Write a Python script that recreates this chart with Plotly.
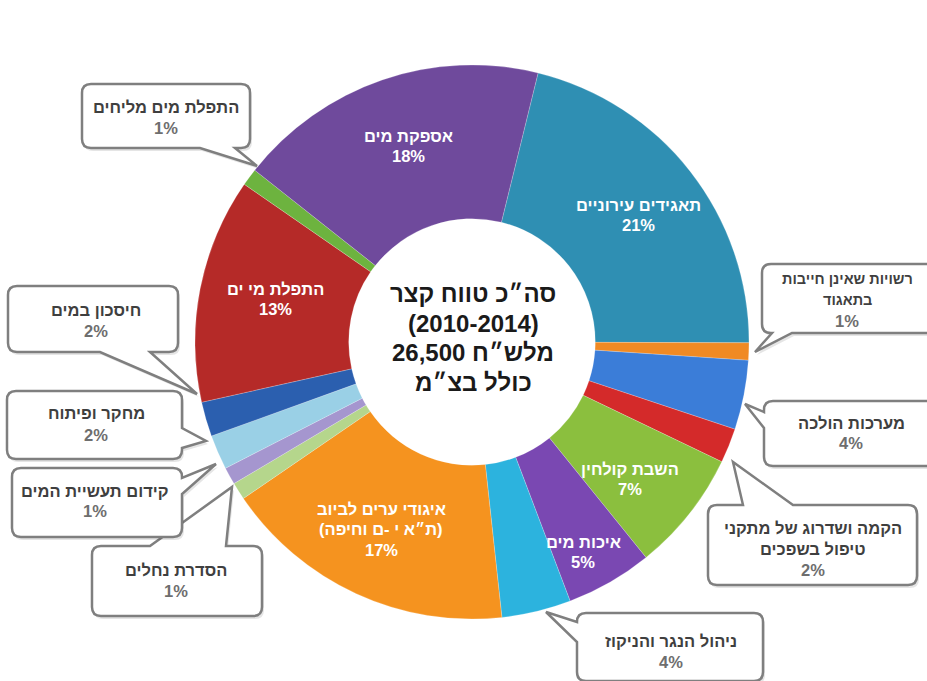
import plotly.graph_objects as go

# ---------------- data ----------------
categories = [
    "תאגידים עירוניים",
    "רשויות שאינן חייבות בתאגוד",
    "מערכות הולכה",
    "הקמה ושדרוג של מתקני טיפול בשפכים",
    "השבת קולחין",
    "איכות מים",
    "ניהול הנגר והניקוז",
    "איגודי ערים לביוב (ת״א י -ם וחיפה)",
    "הסדרת נחלים",
    "קידום תעשיית המים",
    "מחקר ופיתוח",
    "חיסכון במים",
    "התפלת מי ים",
    "התפלת מים מליחים",
    "אספקת מים",
]
values = [21, 1, 4, 2, 7, 5, 4, 17, 1, 1, 2, 2, 13, 1, 18]
pct_labels = ["21%", "1%", "4%", "2%", "7%", "5%", "4%", "17%", "1%", "1%", "2%", "2%", "13%", "1%", "18%"]
# label text as broken into lines on the chart
label_lines = [
    ["תאגידים עירוניים"],
    ["רשויות שאינן חייבות", "בתאגוד"],
    ["מערכות הולכה"],
    ["הקמה ושדרוג של מתקני", "טיפול בשפכים"],
    ["השבת קולחין"],
    ["איכות מים"],
    ["ניהול הנגר והניקוז"],
    ["איגודי ערים לביוב", "(ת״א י -ם וחיפה)"],
    ["הסדרת נחלים"],
    ["קידום תעשיית המים"],
    ["מחקר ופיתוח"],
    ["חיסכון במים"],
    ["התפלת מי ים"],
    ["התפלת מים מליחים"],
    ["אספקת מים"],
]
center_lines = ["סה״כ טווח קצר", "(2010-2014)", "26,500 מלש״ח", "כולל בצ״מ"]

# ---------------- styles / layout ----------------
colors = ["#2F8FB3", "#F08A24", "#3B7DD8", "#D42A2A", "#8BBF3E", "#7A48B2",
          "#2CB3DE", "#F5931F", "#B5D68C", "#A596CF", "#9AD0E6", "#2B5FAF",
          "#B52A28", "#6DB33F", "#6F4A9C"]

W, H = 927, 681
CX, CY, R = 472, 342, 277
FONT = "Liberation Sans, DejaVu Sans, Arial, sans-serif"


def px(x, y):
    return x / W, 1 - y / H


# inside label text centres (pixel positions) by slice index
inside_pos = {0: (638, 215), 4: (630, 479), 5: (583, 552),
              7: (381, 529), 12: (275, 299), 14: (408, 146)}

# callouts: slice index -> box (x0,y0,x1,y1), text centre, pointer side, base, tip
callouts = {
    1: ((762, 264, 960, 333), (847, 300), "bottom", (772, 792), (755, 352)),
    2: ((764, 401, 960, 466), (851, 433), "left", (412, 428), (745, 404)),
    3: ((708, 505, 917, 585), (813, 549), "top", (743, 793), (733, 462)),
    6: ((577, 613, 763, 681), (671, 651), "left", (622, 642), (546, 612)),
    8: ((92, 546, 262, 616), (176, 580), "top", (150, 226), (232, 487)),
    9: ((12, 468, 182, 537), (95, 501), "right", (478, 494), (216, 464)),
    10: ((7, 391, 182, 459), (96, 424), "right", (428, 448), (206, 441)),
    11: ((8, 286, 178, 352), (96, 320), "bottom", (100, 150), (197, 394)),
    13: ((82, 84, 250, 148), (166, 117), "bottom", (200, 235), (257, 166)),
}
# per-callout font size override (the right-edge box is narrow)
callout_size = {1: 14.5}


def callout_path(box, side, base, tip, r=9, dx=0, dy=0):
    x0, y0, x1, y1 = box
    x0 += dx; x1 += dx; y0 += dy; y1 += dy
    tip = (tip[0] + dx, tip[1] + dy)
    b1, b2 = base
    pts = []

    def P(cmd, *xy):
        s = cmd
        for i in range(0, len(xy), 2):
            a, b = px(xy[i], xy[i + 1])
            s += f" {a:.5f},{b:.5f}"
        pts.append(s)

    P("M", x0 + r, y0)
    if side == "top":
        P("L", b1 + dx, y0); P("L", *tip); P("L", b2 + dx, y0)
    P("L", x1 - r, y0)
    P("Q", x1, y0, x1, y0 + r)
    if side == "right":
        P("L", x1, b1 + dy); P("L", *tip); P("L", x1, b2 + dy)
    P("L", x1, y1 - r)
    P("Q", x1, y1, x1 - r, y1)
    if side == "bottom":
        P("L", b2 + dx, y1); P("L", *tip); P("L", b1 + dx, y1)
    P("L", x0 + r, y1)
    P("Q", x0, y1, x0, y1 - r)
    if side == "left":
        P("L", x0, b2 + dy); P("L", *tip); P("L", x0, b1 + dy)
    P("L", x0, y0 + r)
    P("Q", x0, y0, x0 + r, y0)
    return " ".join(pts) + " Z"


annotations = []


def add_lines(lines, cx, cy, pitch, sizes, cols):
    n = len(lines)
    for k, (s, c, sz) in enumerate(zip(lines, cols, sizes)):
        yy = cy + (k - (n - 1) / 2) * pitch
        x, y = px(cx, yy)
        annotations.append(dict(
            x=x, y=y, xref="paper", yref="paper", xanchor="center", yanchor="middle",
            showarrow=False, text="<b>" + s + "</b>",
            font=dict(family=FONT, size=sz, color=c)))


dx0, dx1 = (CX - R) / W, (CX + R) / W
dy0, dy1 = 1 - (CY + R) / H, 1 - (CY - R) / H

fig = go.Figure(go.Pie(
    labels=categories, values=values, sort=False, direction="clockwise",
    rotation=13.8, hole=0.445, textinfo="none",
    marker=dict(colors=colors, line=dict(color="rgba(255,255,255,0.35)", width=0.6)),
    domain=dict(x=[dx0, dx1], y=[dy0, dy1]),
    hovertemplate="%{label}<br>%{percent}<extra></extra>",
    showlegend=False,
))

shapes = []
for i, (box, tc, side, base, tip) in callouts.items():
    shapes.append(dict(type="path", xref="paper", yref="paper",
                       path=callout_path(box, side, base, tip, dx=2, dy=3),
                       fillcolor="rgba(0,0,0,0.10)", line=dict(width=0), layer="above"))
    shapes.append(dict(type="path", xref="paper", yref="paper",
                       path=callout_path(box, side, base, tip),
                       fillcolor="white", line=dict(color="#7F7F7F", width=2.5), layer="above"))
    lines = label_lines[i] + [pct_labels[i]]
    cols = ["#3F3F3F"] * len(label_lines[i]) + ["#6E6E6E"]
    sz = [callout_size.get(i, 16.5)] * len(label_lines[i]) + [16.5]
    add_lines(lines, tc[0], tc[1], 21, sz, cols)

for i, tc in inside_pos.items():
    lines = label_lines[i] + [pct_labels[i]]
    add_lines(lines, tc[0], tc[1], 20.5, [16.5] * len(lines), ["white"] * len(lines))

add_lines(center_lines, 473, 338, 29.7, [24] * len(center_lines), ["#1a1a1a"] * len(center_lines))

fig.update_layout(
    width=W, height=H, margin=dict(l=0, r=0, t=0, b=0),
    paper_bgcolor="white", plot_bgcolor="white",
    shapes=shapes, annotations=annotations,
)

fig.write_html("out.html")
